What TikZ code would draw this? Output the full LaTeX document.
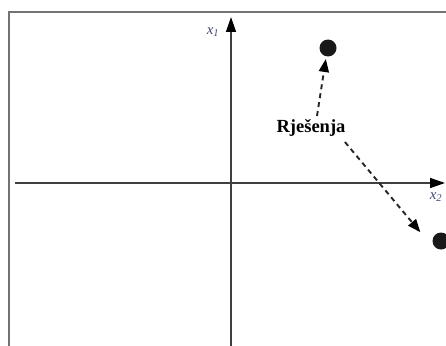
\documentclass[tikz,border=0pt]{standalone}
\usepackage{fontspec}
\setmainfont{Liberation Serif}
\usetikzlibrary{arrows.meta}
\definecolor{labelblue}{RGB}{70,75,120}
\tikzset{
  axis/.style={draw=black!75, line width=1.4pt, -{Triangle[length=15pt,width=10pt,color=black]}},
  solution/.style={circle, fill=black!90, inner sep=0pt, minimum size=17pt},
  hint/.style={draw=black!85, line width=1.9pt, dash pattern=on 5pt off 4pt,
    -{Triangle[length=13pt,width=10pt,color=black]}, shorten >=1pt},
}
\begin{document}
\begin{tikzpicture}[x=1pt,y=-1pt]
  \useasboundingbox (0,0) rectangle (446,345);
  \fill[white] (0,0) rectangle (446,345);

  % frame
  \draw[black!55, line width=1.6pt] (9,346) -- (9,12) -- (447,12);

  % axes
  \coordinate (x1start) at (231,346);
  \coordinate (x1end) at (231,17);
  \coordinate (x2start) at (15,183);
  \coordinate (x2end) at (445,183);
  \draw[axis] (x1start) -- (x1end);
  \draw[axis] (x2start) -- (x2end);
  \node[labelblue, font=\itshape\fontsize{15}{15}\selectfont] (x1lab) at (213,32) {x\textsubscript{\itshape 1}};
  \node[labelblue, font=\itshape\fontsize{15}{15}\selectfont] (x2lab) at (436,197) {x\textsubscript{\itshape 2}};

  % solutions
  \node[solution] (sol1) at (328,48) {};
  \node[solution] (sol2) at (441,241) {};
  \node[font=\bfseries\fontsize{18.5}{18.5}\selectfont] (label) at (311,128) {Rješenja};

  % arrows to solutions
  \draw[hint] ([xshift=6pt]label.north) -- (326,58);
  \draw[hint] ([xshift=-4pt,yshift=-2pt]label.south east) -- (421,233);
\end{tikzpicture}
\end{document}
